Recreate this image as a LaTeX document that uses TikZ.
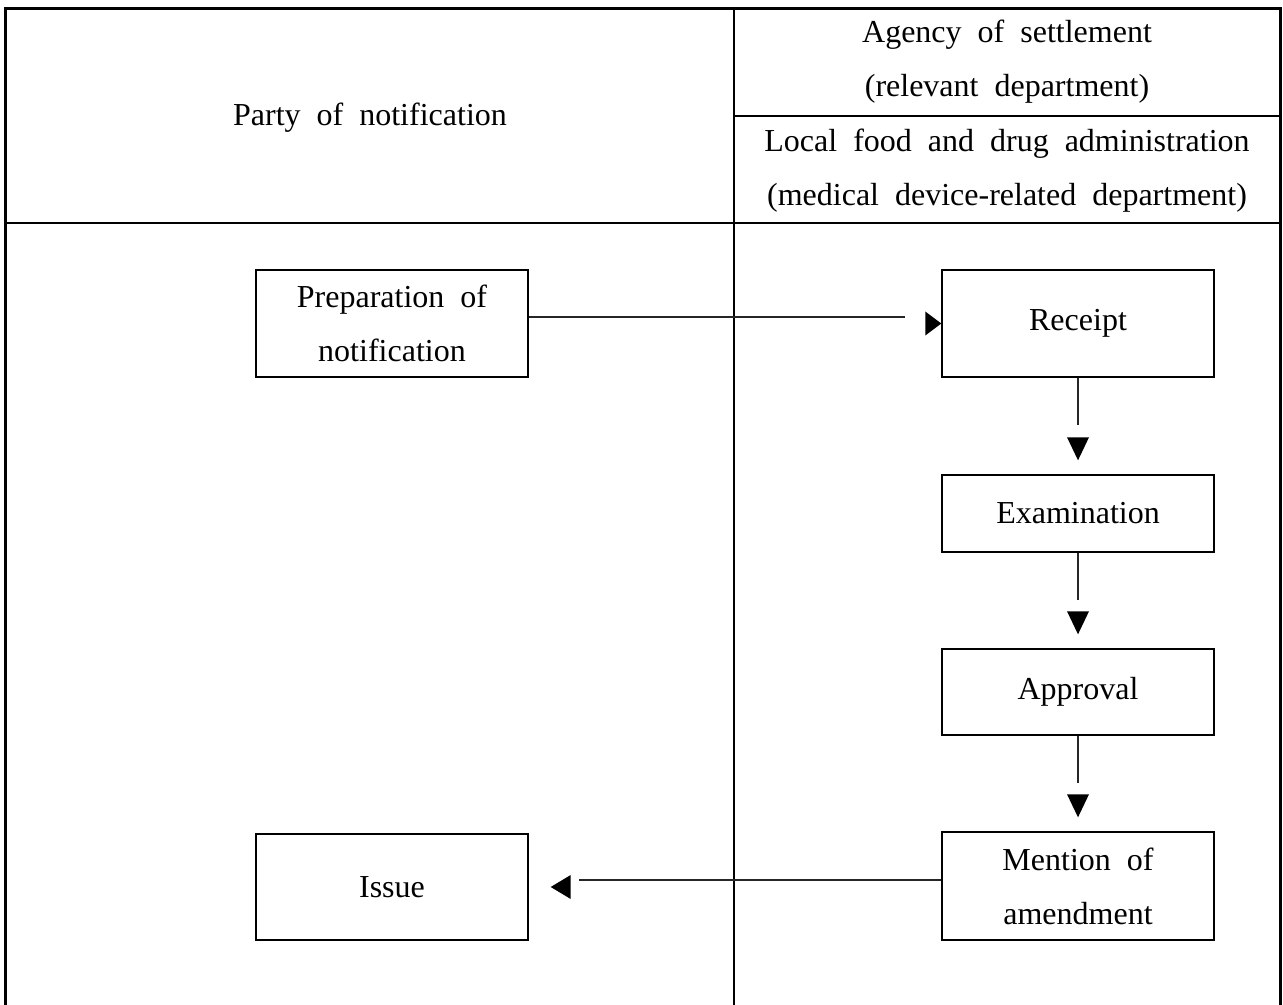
\documentclass[tikz,border=0pt]{standalone}
\usepackage{fontspec}
\setmainfont[WordSpace=2]{Liberation Serif}
\usetikzlibrary{calc}
\begin{document}
\begin{tikzpicture}[x=0.5pt,y=-0.5pt,
  frame/.style={line width=1.5pt, line cap=rect},
  rule/.style={line width=0.75pt},
  txt/.style={align=center, inner sep=0pt, font=\fontsize{16}{27}\selectfont},
  flowbox/.style={draw, line width=0.7pt, align=center, inner sep=0pt,
    font=\fontsize{16}{27}\selectfont, minimum width=136pt},
  link/.style={line width=0.55pt, draw=black!85},
  tip/.style={fill=black}]
\useasboundingbox (0,0) rectangle (1283,1005);

% table frame and rules
\draw[frame] (5,1005) -- (5,9) -- (1280,9) -- (1280,1005);
\draw[rule] (734,9) -- (734,1005);
\draw[rule] (734,116) -- (1280,116);
\draw[rule] (5,223) -- (1280,223);

% header cells
\node[txt] (party) at (370,118) {Party of notification};
\node[txt] (agency) at (1007,62) {Agency of settlement\\(relevant department)};
\node[txt] (local) at (1007,171) {Local food and drug administration\\(medical device-related department)};

% flow boxes
\node[flowbox, minimum height=53.5pt] (prep) at (392,323.5) {Preparation of\\notification};
\node[flowbox, minimum height=53.5pt] (rec) at (1078,323.5) {Receipt};
\node[flowbox, minimum height=38.5pt] (exam) at (1078,513.5) {Examination};
\node[flowbox, minimum height=43pt] (appr) at (1078,692) {Approval};
\node[flowbox, minimum height=54pt] (ment) at (1078,886) {Mention of\\amendment};
\node[flowbox, minimum height=53pt] (issue) at (392,887) {Issue};

% preparation -> receipt
\draw[link] ([yshift=3.25pt]prep.east) -- ([xshift=-18pt,yshift=3.25pt]rec.west);
\fill[tip] (rec.west) -- ++(-16,-12) -- ++(0,24) -- cycle;

% receipt -> examination -> approval -> mention
\draw[link] (rec.south) -- ++(0,47);
\fill[tip] ([yshift=7pt]exam.north) -- ++(-11,-23) -- ++(22,0) -- cycle;
\draw[link] (exam.south) -- ++(0,47);
\fill[tip] ([yshift=7pt]appr.north) -- ++(-11,-23) -- ++(22,0) -- cycle;
\draw[link] (appr.south) -- ++(0,47);
\fill[tip] ([yshift=7pt]ment.north) -- ++(-11,-23) -- ++(22,0) -- cycle;

% mention -> issue
\coordinate (issuegap) at ([xshift=25pt]issue.east);
\draw[link] ([yshift=3pt]ment.west) -- ([yshift=3pt]ment.west -| issuegap);
\fill[tip] ([xshift=11pt]issue.east) -- ++(20,-12) -- ++(0,24) -- cycle;
\end{tikzpicture}
\end{document}
